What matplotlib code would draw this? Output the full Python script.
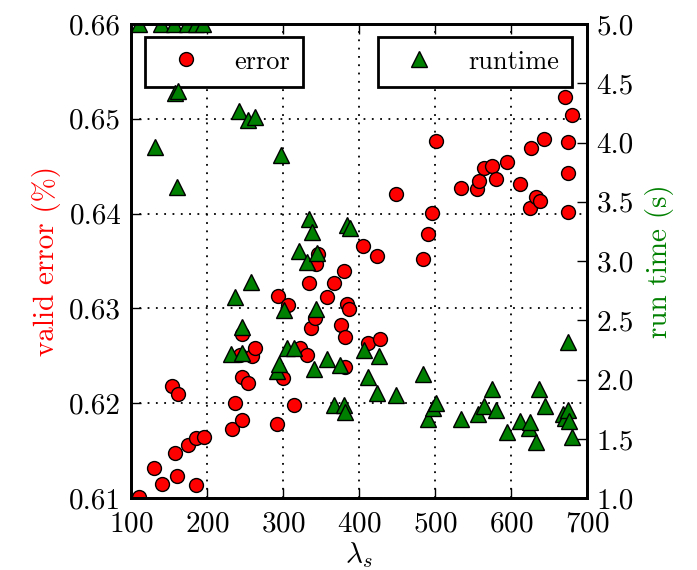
import matplotlib
matplotlib.use("Agg")
import matplotlib.pyplot as plt

plt.rcParams['font.family'] = ['cmr10', 'DejaVu Serif']
plt.rcParams['mathtext.fontset'] = 'cm'
plt.rcParams['axes.formatter.use_mathtext'] = True
plt.rcParams['font.size'] = 21

# error vs lambda_s
err_lam = [110, 130, 141, 154.5, 157.5, 160, 162.4, 175, 186, 186, 195.8,
           233, 236.6, 243, 245.4, 245.4, 246.7, 254, 258.6, 263,
           291.5, 294, 299.5, 306, 314.5, 323, 332, 334.5, 337, 341.5,
           344, 346, 358, 367.5, 376, 380, 381, 381, 384, 387,
           405.6, 412, 424, 427.6, 448.5, 484, 490.4, 496, 502,
           534, 556, 558.4, 564.6, 574.7, 580, 594.5, 612, 625, 626,
           633, 638.3, 644, 671, 675, 675, 675.5, 681]
err_val = [0.6101, 0.6132, 0.6115, 0.6218, 0.6148, 0.6123, 0.6210, 0.6156, 0.6163, 0.6114, 0.6164,
           0.6173, 0.6200, 0.6251, 0.6182, 0.6228, 0.6273, 0.6221, 0.6250, 0.6258,
           0.6178, 0.6313, 0.6227, 0.6304, 0.6198, 0.6258, 0.6251, 0.6327, 0.6279, 0.6290,
           0.6347, 0.6357, 0.6312, 0.6327, 0.6283, 0.6340, 0.6270, 0.6238, 0.6305, 0.6299,
           0.6366, 0.6264, 0.6355, 0.6268, 0.6421, 0.6352, 0.6379, 0.6401, 0.6477,
           0.6427, 0.6426, 0.6434, 0.6448, 0.6450, 0.6437, 0.6454, 0.6431, 0.6406, 0.6469,
           0.6418, 0.6413, 0.6479, 0.6523, 0.6476, 0.6443, 0.6402, 0.6504]

# runtime vs lambda_s
rt_lam = [110.5, 140, 156, 173.7, 186, 195, 131, 157.5, 162, 160,
          232, 236.6, 242, 245.4, 246.7, 254, 257.7, 263,
          291.5, 295, 298, 301.5, 304.7, 314.7, 321, 332, 334.5, 337.6, 340.6, 343, 345,
          358, 367.4, 375, 380, 381.5, 383.7, 388,
          406, 412, 424, 427, 448.5, 484, 490.4, 497, 502,
          534, 557, 564, 574.5, 580, 594.5, 612, 624, 625, 633, 637.5, 644.5,
          668.5, 671, 675, 675.6, 676, 681]
rt_val = [5.0, 5.0, 5.0, 5.0, 5.0, 5.0, 3.965, 4.415, 4.437, 3.627,
          2.217, 2.70, 4.268, 2.447, 2.228, 4.19, 2.826, 4.218,
          2.076, 2.132, 3.895, 2.588, 2.265, 2.265, 3.088, 2.995, 3.352, 3.248, 2.088, 2.594, 3.071,
          2.172, 1.787, 2.124, 1.787, 1.73, 3.304, 3.277,
          2.25, 2.02, 1.885, 2.20, 1.87, 2.048, 1.667, 1.76, 1.805,
          1.67, 1.708, 1.778, 1.92, 1.745, 1.555, 1.65, 1.59, 1.645, 1.47, 1.92, 1.778,
          1.71, 1.675, 1.745, 2.315, 1.655, 1.517]

x_ticks = [100, 200, 300, 400, 500, 600, 700]
err_ticks = [0.61, 0.62, 0.63, 0.64, 0.65, 0.66]
rt_ticks = [1.0, 1.5, 2.0, 2.5, 3.0, 3.5, 4.0, 4.5, 5.0]

fig = plt.figure(figsize=(6.97, 5.70), dpi=100)
ax = fig.add_axes([0.188, 0.126, 0.654, 0.832])
ax2 = ax.twinx()

ax.plot(err_lam, err_val, 'o', color='r', markersize=10, markeredgecolor='k',
        markeredgewidth=1, label='error')
ax2.plot(rt_lam, rt_val, '^', color='g', markersize=11, markeredgecolor='k',
         markeredgewidth=1, label='runtime')

ax.set_xlim(100, 700)
ax.set_ylim(0.61, 0.66)
ax2.set_ylim(1.0, 5.0)
ax.set_xticks(x_ticks)
ax.set_yticks(err_ticks)
ax.set_yticklabels(['%.2f' % v for v in err_ticks])
ax2.set_yticks(rt_ticks)
ax2.set_yticklabels(['%.1f' % v for v in rt_ticks])

ax.grid(True, linestyle=(0, (1, 3.6)), color='k', linewidth=1.3)

for a in (ax, ax2):
    for s in a.spines.values():
        s.set_linewidth(2)
ax.tick_params(axis='x', direction='in', length=7, width=1, top=True, pad=9)
ax.tick_params(axis='y', direction='in', length=7, width=1, pad=7)
ax2.tick_params(axis='y', direction='in', length=7, width=1, pad=7)

ax.set_xlabel(r'$\lambda_s$', labelpad=2)
ax.set_ylabel('valid error (%)', color='r', labelpad=6)
ax2.set_ylabel('run time (s)', color='g', labelpad=8)

leg1 = ax.legend(loc='upper left', bbox_to_anchor=(0.03, 0.973), numpoints=1,
                 fancybox=False, edgecolor='k', framealpha=1, fontsize=19,
                 borderaxespad=0, handlelength=2.1, borderpad=0.5)
leg1.get_frame().set_linewidth(2)
leg2 = ax2.legend(loc='upper right', bbox_to_anchor=(0.968, 0.973), numpoints=1,
                  fancybox=False, edgecolor='k', framealpha=1, fontsize=19,
                  borderaxespad=0, handlelength=2.1, borderpad=0.5)
leg2.get_frame().set_linewidth(2)

fig.savefig('out.png', dpi=100, facecolor='white')
